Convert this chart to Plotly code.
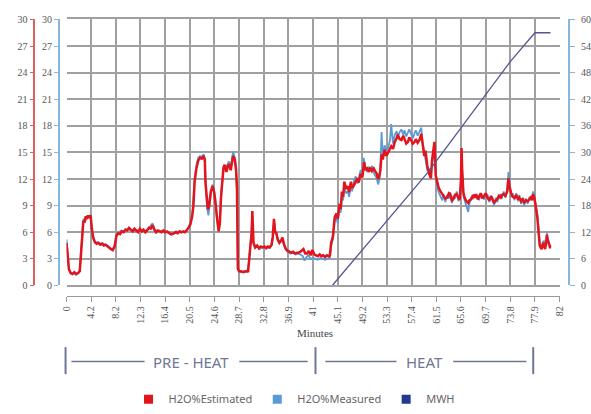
import plotly.graph_objects as go

# ---------------- data ----------------
est_min = [0.0,0.2,0.4,0.7,1.0,1.3,1.6,1.9,2.2,2.4,2.6,2.8,3.0,3.2,3.4,3.6,3.8,4.0,4.2,4.4,4.7,5.0,5.3,5.6,5.9,6.2,6.5,6.8,7.1,7.4,7.7,8.0,
           8.3,8.6,8.9,9.2,9.5,9.8,10.1,10.4,10.7,11.0,11.3,11.6,11.9,12.2,12.5,12.8,13.1,13.4,13.7,14.0,14.3,14.6,14.9,15.2,15.5,15.8,16.1,16.4,16.7,17.0,
           17.3,17.6,17.9,18.2,18.5,18.8,19.1,19.4,19.7,20.0,20.3,20.6,20.9,21.1,21.3,21.6,21.9,22.2,22.5,22.8,23.0,23.1,23.3,23.5,23.7,24.0,24.3,24.5,24.7,24.9,
           25.1,25.3,25.5,25.7,25.9,26.1,26.3,26.6,26.8,27.0,27.3,27.5,27.7,28.0,28.2,28.35,28.5,28.7,29.0,29.4,29.8,30.2,30.4,30.6,30.8,30.9,31.0,31.1,31.4,31.7,
           32.0,32.3,32.6,32.9,33.2,33.5,33.8,34.1,34.3,34.5,34.7,34.9,35.1,35.4,35.7,35.9,36.2,36.5,36.8,37.1,37.4,37.7,38.0,38.3,38.6,38.9,39.2,39.4,39.7,40.0,
           40.3,40.6,40.9,41.2,41.5,41.8,42.1,42.4,42.7,43.0,43.3,43.6,43.8,44.0,44.3,44.6,44.9,45.1,45.4,45.6,45.8,46.0,46.2,46.5,46.8,47.0,47.3,47.5,47.8,48.1,
           48.4,48.6,48.9,49.2,49.5,49.7,50.0,50.3,50.5,50.8,51.1,51.4,51.6,51.8,52.0,52.2,52.4,52.6,52.9,53.2,53.5,53.8,54.0,54.3,54.6,54.9,55.1,55.4,55.7,56.0,
           56.2,56.5,56.8,57.0,57.3,57.6,57.9,58.1,58.4,58.7,59.0,59.2,59.5,59.7,60.0,60.3,60.6,60.8,61.1,61.2,61.4,61.6,61.9,62.2,62.5,62.7,63.0,63.3,63.6,63.8,
           64.1,64.3,64.6,64.9,65.2,65.4,65.6,65.7,65.8,65.9,66.0,66.2,66.5,66.8,67.0,67.3,67.6,67.9,68.1,68.4,68.6,68.9,69.2,69.5,69.7,70.0,70.3,70.6,70.8,71.1,
           71.4,71.6,71.9,72.2,72.4,72.7,73.0,73.3,73.5,73.7,74.0,74.2,74.5,74.8,75.1,75.3,75.6,75.9,76.1,76.4,76.7,77.0,77.2,77.4,77.6,77.8,77.9,78.1,78.3,78.5,
           78.7,78.9,79.0,79.2,79.4,79.5,79.6,79.8,79.9,80.0,80.2,80.4,80.6]
est_val = [4.8,3.0,1.8,1.4,1.3,1.5,1.3,1.4,1.6,3.5,6.2,7.3,7.1,7.8,7.5,7.9,7.6,7.9,6.5,5.5,4.9,4.7,4.8,4.6,4.7,4.5,4.6,4.4,4.3,4.1,4.0,4.4,
           5.6,5.9,5.8,6.1,6.0,6.3,6.2,6.5,6.3,6.1,6.4,6.2,6.0,6.4,6.1,6.3,6.0,6.2,6.5,6.4,6.8,6.3,6.0,6.2,6.1,6.0,6.2,6.0,6.1,5.9,
           5.8,5.8,5.9,6.0,5.9,6.1,6.0,6.1,6.0,6.2,6.5,6.9,7.8,9.0,11.7,13.2,14.1,14.4,14.3,14.6,14.2,11.7,9.5,8.6,8.9,10.6,11.2,10.7,9.8,8.2,
           7.2,6.1,7.0,10.0,12.0,13.3,13.6,12.8,13.4,13.7,13.0,13.8,14.6,14.2,13.0,11.0,1.9,1.6,1.6,1.5,1.6,1.6,3.0,4.8,6.0,8.4,5.5,4.8,4.3,4.5,
           4.2,4.4,4.3,4.4,4.2,4.4,4.3,4.6,5.5,7.5,6.0,5.9,5.2,4.8,5.1,5.4,4.6,4.1,3.9,3.8,3.7,3.8,3.6,3.7,3.7,3.8,4.0,4.1,3.6,3.6,
           3.9,3.4,4.0,3.5,3.4,3.3,3.5,3.3,3.4,3.2,3.4,3.3,3.4,4.8,5.5,7.7,8.1,7.5,9.2,8.6,10.6,10.0,11.7,10.9,11.2,10.5,11.7,11.0,11.3,11.8,
           12.1,11.6,12.6,12.2,13.9,13.0,13.2,12.8,13.3,12.9,13.2,12.8,12.6,12.0,12.2,13.0,14.8,14.2,15.3,14.6,15.0,15.5,15.7,15.4,16.2,16.6,17.0,16.5,16.4,16.9,
           16.6,16.0,16.2,16.7,16.4,16.0,16.2,16.5,16.1,16.4,17.1,15.8,14.6,15.2,13.5,12.6,12.1,14.2,15.7,16.2,12.4,11.7,11.0,10.6,10.2,10.1,9.8,9.9,10.4,10.3,
           9.6,9.7,10.2,10.3,9.8,9.7,12.0,15.5,13.0,12.1,10.5,9.9,9.5,9.3,9.6,9.7,10.2,9.9,10.3,9.7,10.0,10.4,9.8,10.1,10.4,9.9,9.6,10.1,9.7,9.3,
           9.6,9.7,10.1,9.9,10.2,10.3,10.1,10.6,12.1,11.0,10.3,10.0,9.9,10.2,9.7,9.9,9.5,9.8,9.3,9.6,9.5,9.8,9.9,9.6,10.3,9.9,9.2,8.6,7.7,5.9,
           4.5,4.2,4.1,4.6,4.8,4.3,4.1,5.0,5.7,5.2,4.6,4.3,4.3]

meas_min = [0.0,0.2,0.4,0.8,1.2,1.6,2.0,2.2,2.4,2.6,2.8,3.1,3.4,3.7,4.0,4.2,4.5,4.8,5.2,5.6,6.0,6.4,6.8,7.2,7.6,8.0,8.3,8.7,9.1,9.5,9.9,10.3,
            10.7,11.1,11.5,11.9,12.3,12.7,13.1,13.5,13.9,14.3,14.6,15.0,15.4,15.8,16.2,16.6,17.0,17.4,17.8,18.2,18.6,19.0,19.4,19.8,20.1,20.4,20.7,21.0,21.3,21.6,
            21.9,22.2,22.5,22.8,23.0,23.2,23.4,23.6,23.8,24.1,24.3,24.6,24.8,25.0,25.3,25.5,25.7,26.0,26.2,26.5,26.8,27.0,27.3,27.5,27.7,28.0,28.2,28.35,28.5,29.0,
            29.5,30.0,30.3,30.5,30.7,30.9,31.0,31.3,31.7,32.1,32.5,32.9,33.3,33.7,34.1,34.3,34.5,34.7,35.0,35.3,35.6,35.9,36.2,36.5,36.9,37.3,37.7,38.1,38.5,38.9,
            39.3,39.6,39.9,40.2,40.6,41.0,41.4,41.8,42.2,42.6,43.0,43.4,43.8,44.0,44.3,44.6,44.9,45.1,45.4,45.6,45.8,46.0,46.2,46.5,46.8,47.0,47.3,47.5,47.8,48.1,
            48.4,48.6,48.9,49.2,49.4,49.7,50.0,50.3,50.5,50.8,51.1,51.4,51.6,51.8,52.0,52.2,52.4,52.6,52.9,53.2,53.5,53.8,54.0,54.3,54.6,54.9,55.1,55.4,55.7,56.0,
            56.2,56.5,56.8,57.0,57.3,57.6,57.9,58.1,58.4,58.7,59.0,59.2,59.5,59.7,60.0,60.3,60.6,60.8,61.1,61.2,61.4,61.6,61.9,62.2,62.5,62.7,63.0,63.3,63.6,63.8,
            64.1,64.3,64.6,64.9,65.2,65.4,65.6,65.7,65.8,65.9,66.0,66.2,66.5,66.8,67.0,67.3,67.6,67.9,68.1,68.4,68.6,68.9,69.2,69.5,69.7,70.0,70.3,70.6,70.8,71.1,
            71.4,71.6,71.9,72.2,72.4,72.7,73.0,73.3,73.5,73.7,74.0,74.2,74.5,74.8,75.1,75.3,75.6,75.9,76.1,76.4,76.7,77.0,77.2,77.4,77.6,77.8,77.9,78.1,78.3,78.5,
            78.7,78.9,79.0,79.2,79.4,79.5,79.6,79.8,79.9,80.0,80.2,80.4,80.6]
meas_val = [5.2,3.4,1.9,1.3,1.4,1.2,1.4,1.8,4.0,6.6,7.5,7.3,7.8,7.7,8.0,6.2,5.2,4.8,4.9,4.7,4.8,4.6,4.5,4.3,4.0,4.5,5.7,6.0,6.2,6.1,6.3,6.4,
            6.2,6.3,6.1,6.2,6.3,6.2,6.1,6.3,6.6,7.0,6.4,6.1,6.2,6.1,6.1,6.0,5.9,5.7,5.9,6.1,6.0,6.1,6.0,6.1,6.3,6.7,7.2,8.6,12.0,13.6,
            14.4,14.6,14.5,14.8,14.0,10.5,8.6,7.9,9.2,10.9,11.4,10.5,9.3,7.6,6.3,7.4,10.4,12.6,13.5,13.2,13.6,14.0,13.3,14.0,15.1,14.4,12.8,10.5,1.8,1.5,
            1.6,1.5,2.4,4.2,5.6,7.9,5.0,4.2,4.4,4.1,4.3,4.2,4.3,4.2,4.5,5.2,7.2,6.2,5.5,5.0,4.9,5.2,4.4,4.0,3.7,3.6,3.7,3.5,3.6,3.5,
            3.3,2.8,3.2,3.4,3.0,3.1,3.0,2.9,3.1,3.0,2.9,3.0,3.1,4.4,5.2,7.3,7.6,7.0,8.6,8.2,10.0,9.6,11.2,10.4,10.6,10.0,11.5,10.6,11.8,12.3,
            11.5,12.0,13.0,12.5,14.4,13.4,12.8,13.4,12.9,13.5,12.7,12.3,12.1,11.4,11.8,13.5,17.3,14.6,15.8,15.2,15.6,16.4,18.2,16.0,17.0,17.4,16.8,17.3,17.6,17.0,
            17.5,16.8,17.2,17.6,17.1,16.6,17.2,17.5,16.9,17.3,17.8,16.2,15.0,14.5,13.0,13.1,12.6,13.8,14.8,15.2,12.8,11.2,10.5,10.1,9.6,10.3,9.4,10.2,9.8,10.5,
            9.3,10.0,9.8,10.6,9.5,10.0,11.2,14.2,12.0,11.0,10.2,9.6,9.0,8.3,9.2,9.9,9.8,10.3,9.9,10.2,9.6,10.2,10.1,9.7,10.0,10.3,9.4,9.8,10.0,9.0,
            9.9,9.4,9.8,10.3,9.8,10.6,9.9,11.0,12.8,11.4,10.0,10.4,9.6,10.4,9.5,10.2,9.2,9.9,9.0,9.8,9.2,10.0,9.7,9.9,10.6,10.2,9.6,8.9,8.0,6.2,
            4.8,4.4,4.2,4.9,5.0,4.5,4.3,5.3,5.9,5.4,4.8,4.5,4.4]

mwh_min = [44.2, 60.1, 65.7, 73.8, 77.9, 80.5]
mwh_val = [0.0, 25.5, 35.7, 50.5, 57.0, 57.0]

tick_vals = [0, 4.1, 8.2, 12.3, 16.4, 20.5, 24.6, 28.7, 32.8, 36.9, 41, 45.1, 49.2, 53.3, 57.4, 61.5, 65.6, 69.7, 73.8, 77.9, 82]
tick_text = ["0", "4.2", "8.2", "12.3", "16.4", "20.5", "24.6", "28.7", "32.8", "36.9", "41", "45.1", "49.2",
             "53.3", "57.4", "61.5", "65.6", "69.7", "73.8", "77.9", "82"]
series_names = ["H2O%Estimated", "H2O%Measured", "MWH"]

# ---------------- style ----------------
W, H = 591, 414
RED = "#e3141c"
BLUE = "#5b9bd5"
NAVY = "#1f3a8f"
MWH_LINE = "#55558f"
GRID = "#a0a0a0"
SERIF = "Liberation Serif, Times New Roman, serif"
TICKFONT = dict(family=SERIF, size=10, color="#555555")

def px_x(p):
    return p / W

def px_y(p):
    return (H - p) / H

fig = go.Figure()

# measured on the base y axis (drawn underneath), estimated on overlay axis (drawn on top)
fig.add_trace(go.Scatter(x=meas_min, y=meas_val, mode="lines", line=dict(color=BLUE, width=1.8),
                         xaxis="x", yaxis="y", showlegend=False, hoverinfo="skip"))
fig.add_trace(go.Scatter(x=est_min, y=est_val, mode="lines", line=dict(color=RED, width=2.5),
                         xaxis="x", yaxis="y2", showlegend=False, hoverinfo="skip"))
fig.add_trace(go.Scatter(x=mwh_min, y=mwh_val, mode="lines", line=dict(color=MWH_LINE, width=1.3),
                         xaxis="x2", yaxis="y3", showlegend=False, hoverinfo="skip"))

# legend entries (square swatches)
for name, col in zip(series_names, [RED, BLUE, NAVY]):
    fig.add_trace(go.Scatter(x=[None], y=[None], mode="markers", name=name,
                             marker=dict(symbol="square", size=9, color=col),
                             xaxis="x", yaxis="y", showlegend=True))

xdom = [px_x(62), px_x(567)]
ydom = [px_y(291), px_y(15)]

fig.update_layout(
    width=W, height=H, autosize=False,
    margin=dict(l=0, r=0, t=0, b=0),
    paper_bgcolor="white", plot_bgcolor="white",
    xaxis=dict(domain=xdom, range=[0, 82], tickvals=tick_vals, showticklabels=False, ticks="",
               showgrid=True, gridcolor=GRID, gridwidth=1.5, zeroline=False,
               showline=True, mirror=True, linecolor=GRID, linewidth=1.5, anchor="y"),
    xaxis2=dict(domain=xdom, range=[0, 82], overlaying="x", anchor="free", position=px_y(302),
                tickvals=tick_vals, ticktext=tick_text, tickangle=-90, ticks="outside", ticklen=5,
                tickcolor="#999999", showline=True, linecolor="#999999", linewidth=1.2,
                showgrid=False, zeroline=False, tickfont=dict(TICKFONT)),
    yaxis=dict(domain=ydom, range=[0, 30], dtick=3, anchor="free", position=px_x(54),
               showgrid=True, gridcolor=GRID, gridwidth=1.5, zeroline=False,
               showline=True, linecolor="#86b6dc", linewidth=1.5, ticks="outside", ticklen=4,
               tickcolor="#86b6dc", tickfont=dict(TICKFONT)),
    yaxis2=dict(domain=ydom, range=[0, 30], dtick=3, anchor="free", position=px_x(29), overlaying="y",
                showgrid=False, zeroline=False,
                showline=True, linecolor="#e06060", linewidth=1.5, ticks="outside", ticklen=4,
                tickcolor="#e06060", tickfont=dict(TICKFONT)),
    yaxis3=dict(domain=ydom, range=[0, 60], dtick=6, anchor="free", position=px_x(577), overlaying="y",
                side="right", showgrid=False, zeroline=False,
                showline=True, linecolor="#86b6dc", linewidth=1.5, ticks="outside", ticklen=5,
                ticklabelstandoff=4,
                tickcolor="#86b6dc", tickfont=dict(TICKFONT)),
    legend=dict(orientation="h", x=0.5, xanchor="center", y=px_y(409), yanchor="middle",
                font=dict(family="Noto Sans", size=11, color="#666666"),
                itemwidth=30, bgcolor="rgba(0,0,0,0)"),
)

# "Minutes" label
fig.add_annotation(text="Minutes", x=px_x(316), y=px_y(340), xref="paper", yref="paper",
                   xanchor="center", yanchor="middle", showarrow=False,
                   font=dict(family=SERIF, size=11, color="#444444"))

# phase brackets
PHASE = "#6f7796"
for xb in [61, 317, 540]:
    fig.add_shape(type="line", xref="paper", yref="paper", x0=px_x(xb), x1=px_x(xb),
                  y0=px_y(355), y1=px_y(383), line=dict(color=PHASE, width=2))
for a, b in [(67, 142), (239, 309), (327, 400), (458, 533)]:
    fig.add_shape(type="line", xref="paper", yref="paper", x0=px_x(a), x1=px_x(b),
                  y0=px_y(370), y1=px_y(370), line=dict(color=PHASE, width=1.5))
fig.add_annotation(text="PRE - HEAT", x=px_x(189), y=px_y(370), xref="paper", yref="paper",
                   xanchor="center", yanchor="middle", showarrow=False,
                   font=dict(family="Noto Sans", size=15, color=PHASE))
fig.add_annotation(text="HEAT", x=px_x(429), y=px_y(370), xref="paper", yref="paper",
                   xanchor="center", yanchor="middle", showarrow=False,
                   font=dict(family="Noto Sans", size=15, color=PHASE))

fig.write_html("out.html")
